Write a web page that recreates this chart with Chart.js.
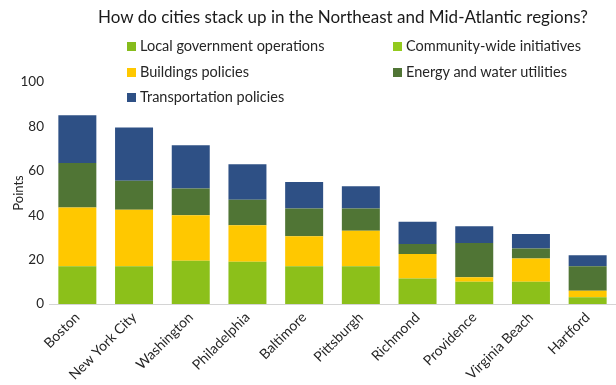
<!DOCTYPE html>
<html>
<head>
<meta charset="utf-8">
<script src="https://cdn.jsdelivr.net/npm/chart.js"></script>
<style>
  html, body { margin: 0; padding: 0; background: #fff; }
  #wrap { position: relative; width: 616px; height: 385px; }
  #title { position: absolute; left: 343px; top: 7px; transform: translateX(-50%); white-space: nowrap;
           font-family: Lato, sans-serif; font-size: 17px; color: #1a1a1a; line-height: 20px; }
  #legend { position: absolute; left: 0; top: 0; font-family: Lato, sans-serif; font-size: 14.5px; color: #262626; }
  .item { position: absolute; white-space: nowrap; line-height: 16px; }
  .item span { display: inline-block; width: 9px; height: 9px; margin-right: 4px; vertical-align: 0px; }
</style>
</head>
<body>
<div id="wrap">
  <canvas id="chart" width="616" height="385"></canvas>
  <div id="title">How do cities stack up in the Northeast and Mid-Atlantic regions?</div>
  <div id="legend"></div>
</div>
<script>
const cities = ['Boston', 'New York City', 'Washington', 'Philadelphia', 'Baltimore',
  'Pittsburgh', 'Richmond', 'Providence', 'Virginia Beach', 'Hartford'];

const localGov = [17, 17, 19.5, 19, 17, 17, 11.5, 10, 10, 3];
const community = [null, null, null, null, null, null, null, null, null, null];
const buildings = [26.5, 25.5, 20.5, 16.5, 13.5, 16, 11, 2, 10.5, 3];
const energy = [20, 13, 12, 11.5, 12.5, 10, 4.5, 15.5, 4.5, 11];
const transport = [21.5, 24, 19.5, 16, 12, 10, 10, 7.5, 6.5, 5];

const yTicks = [0, 20, 40, 60, 80, 100];

const series = [
  { label: 'Local government operations', data: localGov, color: '#8cc01a', legendColor: '#86bc1c' },
  { label: 'Community-wide initiatives', data: community, color: '#92c91e', legendColor: '#93ca1e' },
  { label: 'Buildings policies', data: buildings, color: '#ffc800', legendColor: '#ffc800' },
  { label: 'Energy and water utilities', data: energy, color: '#507535', legendColor: '#507535' },
  { label: 'Transportation policies', data: transport, color: '#2e5085', legendColor: '#2e5085' }
];

// legend laid over the top of the plot, two columns
const legendPos = [[127, 38], [393, 38], [127, 64], [393, 64], [127, 89]];
const legendEl = document.getElementById('legend');
series.forEach((s, i) => {
  const d = document.createElement('div');
  d.className = 'item';
  d.style.left = legendPos[i][0] + 'px';
  d.style.top = legendPos[i][1] + 'px';
  d.innerHTML = '<span style="background:' + s.legendColor + '"></span>' + s.label;
  legendEl.appendChild(d);
});

new Chart(document.getElementById('chart'), {
  type: 'bar',
  data: {
    labels: cities,
    datasets: series.map(s => ({
      label: s.label,
      data: s.data,
      backgroundColor: s.color,
      barPercentage: 0.67,
      categoryPercentage: 1
    }))
  },
  options: {
    responsive: false,
    animation: false,
    layout: { padding: { left: 0, right: 0, top: 82, bottom: 0 } },
    plugins: {
      legend: { display: false },
      tooltip: { enabled: false }
    },
    scales: {
      x: {
        stacked: true,
        grid: { display: false, drawTicks: false },
        border: { display: true, color: '#d4d4d4' },
        ticks: {
          color: '#262626',
          font: { family: 'Lato', size: 14 },
          maxRotation: 45,
          minRotation: 45,
          padding: 5
        },
        afterFit: s => { s.height = 81; }
      },
      y: {
        stacked: true,
        min: 0,
        max: 100,
        afterBuildTicks: s => { s.ticks = yTicks.map(v => ({ value: v })); },
        grid: { display: false, drawTicks: false },
        border: { display: false },
        ticks: {
          color: '#262626',
          font: { family: 'Lato', size: 13.5 },
          padding: 5
        },
        title: {
          display: true,
          text: 'Points',
          color: '#262626',
          font: { family: 'Lato', size: 13 },
          padding: { top: 11, bottom: 0 }
        },
        afterFit: s => { s.width = 49; }
      }
    }
  }
});
</script>
</body>
</html>
